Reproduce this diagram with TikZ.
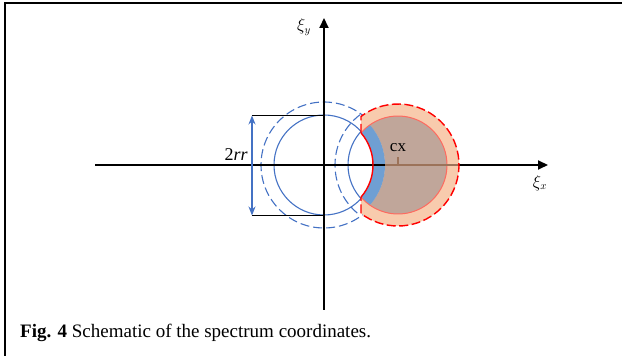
\documentclass[tikz,border=0pt]{standalone}
\usepackage{fontspec}
\setmainfont{Liberation Serif}
\usetikzlibrary{arrows.meta,calc}
\definecolor{orangefill}{HTML}{F8CBAD}
\definecolor{brownfill}{HTML}{C0A69A}
\definecolor{bandblue}{HTML}{6F9FD3}
\definecolor{lineblue}{HTML}{4472C4}
\definecolor{lightred}{HTML}{FF6A5F}
\definecolor{axisbrown}{HTML}{9C735A}
\tikzset{
  axisline/.style={line width=2pt, -{Triangle[length=10pt,width=9pt]}},
  bluesolid/.style={lineblue, line width=1.1pt},
  bluedash/.style={lineblue, line width=1.1pt, dash pattern=on 9pt off 4pt},
  reddash/.style={red, line width=1.4pt, dash pattern=on 9pt off 3.5pt},
  bracketline/.style={black, line width=1.3pt},
  lbl/.style={inner sep=0pt}
}
\begin{document}
\begin{tikzpicture}[x=1pt,y=1pt]
\useasboundingbox (0,0) rectangle (622,356);
% frame
\draw[line width=1.5pt] (5,0) -- (5,353) -- (622,353);
% centres
\coordinate (O) at (324,191);
\coordinate (C) at (398,191);
% blue circles
\draw[bluesolid] (O) circle[radius=50];
\draw[bluedash] (O) circle[radius=63];
\draw[bluesolid] (C) circle[radius=50];
\draw[bluedash] ($(C)+(127:63)$) arc[start angle=127, end angle=233, radius=63];
% orange shape
\fill[orangefill] ($(C)+(127.34:61)$) arc[start angle=127.34, end angle=-127.34, radius=61]
  -- ($(O)+(-40.96:49)$) arc[start angle=-40.96, end angle=40.96, radius=49] -- cycle;
% brown region
\fill[brownfill] ($(C)+(124.97:49)$) arc[start angle=124.97, end angle=-124.97, radius=49]
  arc[start angle=-41.17, end angle=41.17, radius=61] -- cycle;
% blue band
\fill[bandblue] ($(O)+(40.96:49)$) arc[start angle=139.04, end angle=124.97, radius=49]
  arc[start angle=41.17, end angle=-41.17, radius=61]
  arc[start angle=-124.97, end angle=-139.04, radius=49]
  arc[start angle=-40.96, end angle=40.96, radius=49] -- cycle;
% inner light red circle
\draw[lightred, line width=1pt] ($(C)+(139.04:49)$) arc[start angle=139.04, end angle=-139.04, radius=49];
% axes
\coordinate (xs) at (95,191);
\coordinate (xe) at (548,191);
\coordinate (ys) at (324,46);
\coordinate (ye) at (324,338);
\draw[axisline] (xs) -- (xe);
\draw[axisline] (ys) -- (ye);
% brown axis part and tick
\coordinate (b1) at (385,191);
\coordinate (b2) at (459,191);
\coordinate (tk) at (398,199);
\draw[axisbrown, line width=2pt] (b1) -- (b2);
\draw[axisbrown, line width=1.3pt] (C) -- (tk);
% red outlines
\draw[reddash] ($(O)+(40.96:49)$) -- ($(C)+(127.34:61)$) arc[start angle=127.34, end angle=-127.34, radius=61] -- ($(O)+(-40.96:49)$);
\draw[red, line width=1.4pt] ($(O)+(-40.96:49)$) arc[start angle=-40.96, end angle=40.96, radius=49];
% bracket
\coordinate (t1) at (252,240.5);
\coordinate (t2) at (324,240.5);
\coordinate (u1) at (252,140.5);
\coordinate (u2) at (324,140.5);
\draw[bracketline] (t1) -- (t2);
\draw[bracketline] (u1) -- (u2);
\draw[lineblue, line width=1.5pt, {Stealth[length=9pt,width=7pt]}-{Stealth[length=9pt,width=7pt]}] (t1) -- (u1);
% labels
\node[lbl, font=\fontsize{16}{18}\selectfont] (ly) at (304,329) {$\xi_y$};
\node[lbl, font=\fontsize{16}{18}\selectfont] (lx) at (540,173) {$\xi_x$};
\node[lbl, anchor=east, font=\fontsize{18}{20}\selectfont] (rr) at (248,201) {2\textit{rr}};
\node[lbl, font=\fontsize{17}{19}\selectfont] (cx) at (398,208) {cx};
\node[lbl, anchor=base west, font=\fontsize{19}{21}\selectfont] (cap) at (20,18) {\textbf{Fig. 4} Schematic of the spectrum coordinates.};
\end{tikzpicture}
\end{document}
